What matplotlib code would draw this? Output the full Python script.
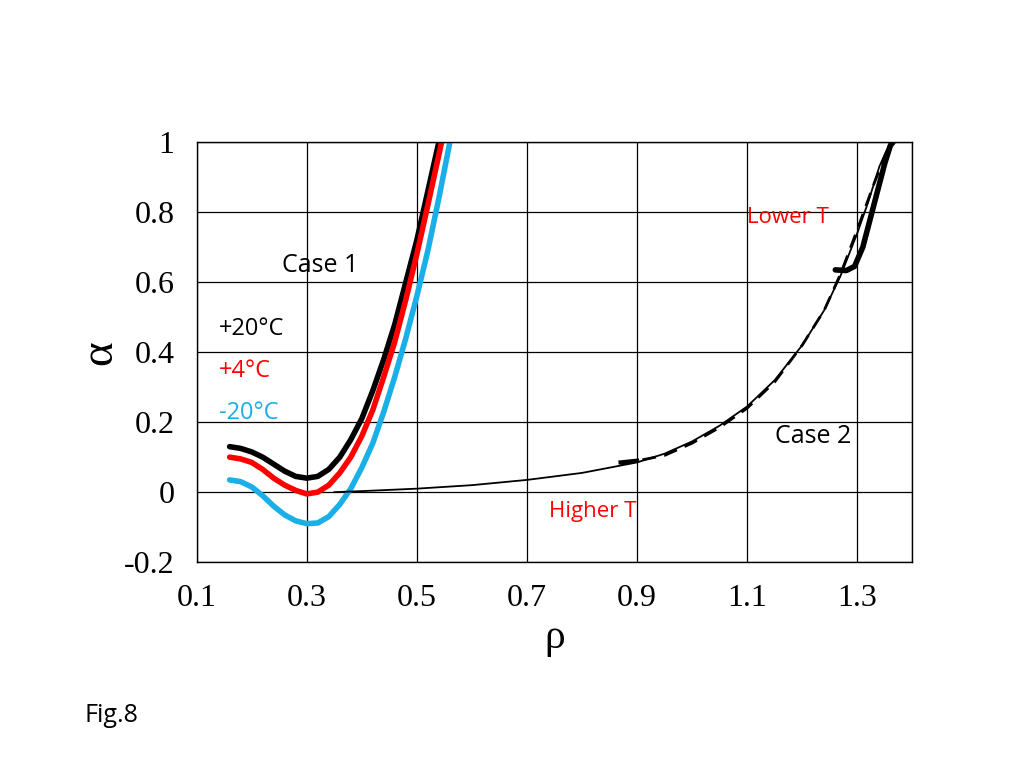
import matplotlib
matplotlib.use("Agg")
import matplotlib.pyplot as plt

x_black = [0.16, 0.18, 0.2, 0.22, 0.24, 0.26, 0.28, 0.3, 0.32, 0.34, 0.36, 0.38, 0.4, 0.42, 0.44, 0.46, 0.48, 0.5, 0.52, 0.54]
y_black = [0.13, 0.125, 0.115, 0.10, 0.08, 0.06, 0.045, 0.04, 0.045, 0.065, 0.1, 0.15, 0.21, 0.29, 0.38, 0.48, 0.6, 0.72, 0.86, 1.0]
x_red = [0.16, 0.18, 0.2, 0.22, 0.24, 0.26, 0.28, 0.3, 0.32, 0.34, 0.36, 0.38, 0.4, 0.42, 0.44, 0.46, 0.48, 0.5, 0.52, 0.545]
y_red = [0.10, 0.095, 0.085, 0.065, 0.04, 0.02, 0.005, -0.005, 0.0, 0.02, 0.055, 0.1, 0.16, 0.235, 0.33, 0.43, 0.55, 0.68, 0.82, 1.0]
x_blue = [0.16, 0.18, 0.2, 0.22, 0.24, 0.26, 0.28, 0.3, 0.32, 0.34, 0.36, 0.38, 0.4, 0.42, 0.44, 0.46, 0.48, 0.5, 0.52, 0.54, 0.56]
y_blue = [0.035, 0.03, 0.015, -0.01, -0.04, -0.065, -0.082, -0.09, -0.088, -0.07, -0.035, 0.01, 0.07, 0.14, 0.23, 0.33, 0.44, 0.56, 0.69, 0.84, 1.0]
x_case2 = [0.35, 0.4, 0.5, 0.6, 0.7, 0.8, 0.9, 0.95, 1.0, 1.05, 1.1, 1.15, 1.2, 1.24, 1.27, 1.3, 1.32, 1.34, 1.36]
y_case2 = [0.0, 0.003, 0.01, 0.02, 0.035, 0.055, 0.085, 0.11, 0.145, 0.19, 0.245, 0.32, 0.42, 0.52, 0.62, 0.74, 0.83, 0.93, 1.0]
x_dash = [0.87, 0.95, 1.0, 1.05, 1.1, 1.15, 1.2, 1.24, 1.27, 1.3, 1.33, 1.36]
y_dash = [0.08, 0.105, 0.14, 0.185, 0.24, 0.315, 0.42, 0.52, 0.625, 0.75, 0.88, 1.0]
x_thick = [1.26, 1.28, 1.295, 1.31, 1.32, 1.33, 1.34, 1.35, 1.36, 1.365]
y_thick = [0.635, 0.633, 0.645, 0.70, 0.76, 0.82, 0.88, 0.94, 0.99, 1.0]
x_seg = [0.87, 0.9]
y_seg = [0.085, 0.09]
xticks = [0.1, 0.3, 0.5, 0.7, 0.9, 1.1, 1.3]
yticks = [-0.2, 0, 0.2, 0.4, 0.6, 0.8, 1]

fig = plt.figure(figsize=(10.24, 7.68), dpi=100)
ax = fig.add_axes([0.192, 0.268, 0.699, 0.547])
ax.plot(x_black, y_black, color="black", lw=4, solid_capstyle="round", solid_joinstyle="round")
ax.plot(x_red, y_red, color="#ff0000", lw=4, solid_capstyle="round", solid_joinstyle="round")
ax.plot(x_blue, y_blue, color="#1aafe6", lw=4, solid_capstyle="round", solid_joinstyle="round")
ax.plot(x_case2, y_case2, color="black", lw=1.3)
ax.plot(x_dash, y_dash, color="black", lw=2, ls=(0, (5, 3)))
ax.plot(x_thick, y_thick, color="black", lw=4, solid_capstyle="round", solid_joinstyle="round")
ax.plot(x_seg, y_seg, color="black", lw=3)
ax.set_xlim(0.1, 1.4)
ax.set_ylim(-0.2, 1.0)
ax.set_xticks(xticks + [1.4])
ax.set_xticklabels([str(t) for t in xticks] + [""])
ax.set_yticks(yticks)
ax.set_yticklabels(["-0.2", "0", "0.2", "0.4", "0.6", "0.8", "1"])
ax.grid(True, color="black", lw=0.9)
ax.tick_params(length=0, labelsize=23, pad=16)
for lab in ax.get_xticklabels() + ax.get_yticklabels():
    lab.set_fontfamily("Liberation Serif")
for s in ax.spines.values():
    s.set_linewidth(1)
ax.set_xlabel("ρ", fontsize=30, fontfamily="Liberation Serif", labelpad=4)
ax.set_ylabel("α", fontsize=34, fontfamily="Liberation Serif", labelpad=2)
sans = "Open Sans"
ax.text(0.255, 0.63, "Case 1", fontsize=18, fontfamily=sans)
ax.text(0.14, 0.45, "+20°C", fontsize=17, fontfamily=sans, color="black")
ax.text(0.14, 0.33, "+4°C", fontsize=17, fontfamily=sans, color="#ff0000")
ax.text(0.14, 0.21, "-20°C", fontsize=17, fontfamily=sans, color="#1aafe6")
ax.text(1.15, 0.14, "Case 2", fontsize=18, fontfamily=sans)
ax.text(1.1, 0.77, "Lower T", fontsize=16, fontfamily=sans, color="#ff0000")
ax.text(0.74, -0.07, "Higher T", fontsize=16, fontfamily=sans, color="#ff0000")
fig.text(0.083, 0.06, "Fig.8", fontsize=18, fontfamily=sans)
fig.savefig("out.png", dpi=100)
